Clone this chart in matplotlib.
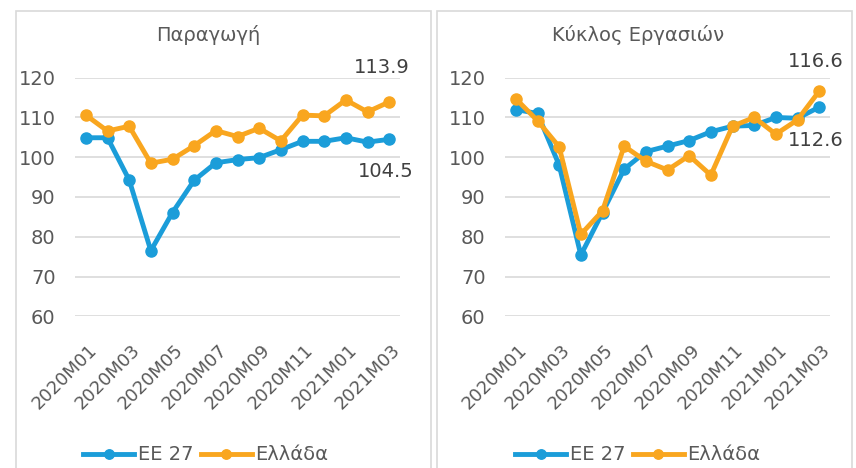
import matplotlib.pyplot as plt
from matplotlib.patches import Rectangle
from matplotlib.transforms import ScaledTranslation

plt.rcParams['font.family'] = ['DejaVu Sans']

months = ["2020M01", "2020M02", "2020M03", "2020M04", "2020M05", "2020M06",
          "2020M07", "2020M08", "2020M09", "2020M10", "2020M11", "2020M12",
          "2021M01", "2021M02", "2021M03"]

# Παραγωγή
prod_eu = [104.9, 104.9, 94.3, 76.5, 86.1, 94.2, 98.6, 99.4, 99.9, 101.9,
           104.0, 104.0, 104.9, 103.8, 104.5]
prod_gr = [110.6, 106.6, 107.8, 98.5, 99.5, 102.9, 106.7, 105.2, 107.3, 104.1,
           110.6, 110.4, 114.4, 111.4, 113.9]

# Κύκλος Εργασιών
turn_eu = [112.0, 111.0, 98.0, 75.4, 86.1, 97.0, 101.4, 102.8, 104.2, 106.4,
           107.8, 108.0, 110.0, 109.8, 112.6]
turn_gr = [114.7, 109.2, 102.6, 80.6, 86.5, 102.8, 99.0, 96.8, 100.4, 95.5,
           107.8, 110.0, 105.8, 109.4, 116.6]

titles = ["Παραγωγή", "Κύκλος Εργασιών"]
series_names = ["ΕΕ 27", "Ελλάδα"]

BLUE = "#1b9dd9"
ORANGE = "#f9a61f"
TXT = "#595959"

W, H = 856, 468
fig = plt.figure(figsize=(W / 100, H / 100), dpi=100)


def px_axes(x0, y0, x1, y1):
    # pixel box (from top-left) -> figure axes
    return fig.add_axes([x0 / W, 1 - y1 / H, (x1 - x0) / W, (y1 - y0) / H])


def draw_panel(panel_x0, panel_x1, ax_x0, eu, gr):
    fig.patches.append(Rectangle((panel_x0 / W, -0.05), (panel_x1 - panel_x0) / W,
                                 1 - 11 / H + 0.05, transform=fig.transFigure,
                                 fill=False, edgecolor="#d9d9d9", lw=1.2))
    ax = px_axes(ax_x0, 77.7, ax_x0 + 325, 316.3)
    x = list(range(len(months)))
    ax.plot(x, eu, color=BLUE, lw=3.5, marker="o", ms=8, label=series_names[0],
            solid_joinstyle="round", zorder=3)
    ax.plot(x, gr, color=ORANGE, lw=3.5, marker="o", ms=8, label=series_names[1],
            solid_joinstyle="round", zorder=4)
    ax.set_xlim(-0.5, len(months) - 0.5)
    ax.set_ylim(60, 120)
    ax.set_yticks(range(60, 121, 10))
    ax.yaxis.grid(True, color="#d9d9d9", lw=1.2)
    ax.set_axisbelow(True)
    for s in ax.spines.values():
        s.set_visible(False)
    ax.tick_params(axis="y", length=0, labelsize=14, labelcolor=TXT, pad=14)
    ax.set_xticks(x[::2])
    ax.set_xticklabels(months[::2], rotation=45, ha="right", rotation_mode="anchor",
                       fontsize=13, color=TXT)
    ax.tick_params(axis="x", length=0, pad=22)
    shift = ScaledTranslation(8 / 100, 0, fig.dpi_scale_trans)
    for lab in ax.get_xticklabels():
        lab.set_va("center")
        lab.set_transform(lab.get_transform() + shift)
    return ax


ax1 = draw_panel(16, 431, 75, prod_eu, prod_gr)
ax2 = draw_panel(437, 852, 505, turn_eu, turn_gr)

fig.text(208 / W, 1 - 35 / H, titles[0], ha="center", va="center", fontsize=14, color=TXT)
fig.text(638 / W, 1 - 35 / H, titles[1], ha="center", va="center", fontsize=14, color=TXT)

# data labels at the last point
ax1.annotate(f"{prod_gr[-1]:.1f}", (14, prod_gr[-1]), xytext=(-7, 34), textcoords="offset pixels",
             ha="center", va="center", fontsize=14, color="#404040", annotation_clip=False)
ax1.annotate(f"{prod_eu[-1]:.1f}", (14, prod_eu[-1]), xytext=(-3, -32), textcoords="offset pixels",
             ha="center", va="center", fontsize=14, color="#404040", annotation_clip=False)
ax2.annotate(f"{turn_gr[-1]:.1f}", (14, turn_gr[-1]), xytext=(-3, 30), textcoords="offset pixels",
             ha="center", va="center", fontsize=14, color="#404040", annotation_clip=False)
ax2.annotate(f"{turn_eu[-1]:.1f}", (14, turn_eu[-1]), xytext=(-3, -33), textcoords="offset pixels",
             ha="center", va="center", fontsize=14, color="#404040", annotation_clip=False)

for ax, cx in ((ax1, 206), (ax2, 638)):
    ax.legend(loc="center", bbox_to_anchor=(cx / W, 1 - 455 / H), bbox_transform=fig.transFigure,
              ncol=2, frameon=False, fontsize=14, labelcolor=TXT, handlelength=2.6,
              handletextpad=0.2, columnspacing=0.4, markerscale=0.85)

fig.savefig("out.png", dpi=100)
